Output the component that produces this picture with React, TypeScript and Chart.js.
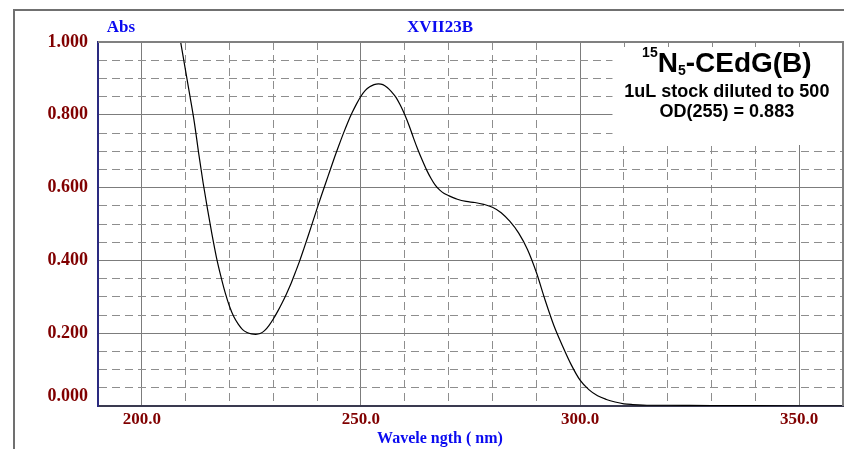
import React, { useEffect, useRef } from 'react';
import { Chart, registerables } from 'chart.js';

Chart.register(...registerables);

// ---- data ----
const wavelengths = [
  206, 208, 209, 210, 211, 212, 213, 214, 215, 216, 217, 218, 219, 220,
  221, 222, 223, 224, 225, 226, 227, 228, 229, 230, 231, 232, 233, 234,
  235, 236, 237, 238, 239, 240, 241, 242, 243, 244, 245, 246, 247, 248,
  249, 250, 251, 252, 253, 254, 255, 256, 257, 258, 259, 260, 261, 262,
  263, 264, 265, 266, 267, 268, 269, 270, 272, 274, 276, 278, 280, 282,
  284, 286, 288, 290, 292, 294, 296, 298, 300, 302, 304, 306, 308, 310,
  312, 316, 320, 330, 340, 350, 360,
];
const absorbance = [
  1.2, 1.06, 0.99, 0.92, 0.85, 0.778, 0.692, 0.612, 0.54, 0.472, 0.41, 0.358, 0.312, 0.274,
  0.245, 0.225, 0.21, 0.202, 0.198, 0.197, 0.199, 0.207, 0.221, 0.239, 0.26, 0.283, 0.308, 0.335,
  0.366, 0.398, 0.433, 0.469, 0.506, 0.543, 0.579, 0.614, 0.649, 0.684, 0.717, 0.749, 0.779, 0.806,
  0.83, 0.851, 0.867, 0.877, 0.883, 0.885, 0.883, 0.875, 0.863, 0.848, 0.826, 0.8, 0.77, 0.736,
  0.704, 0.675, 0.648, 0.625, 0.606, 0.593, 0.584, 0.578, 0.568, 0.562, 0.559, 0.554, 0.546, 0.531,
  0.507, 0.475, 0.43, 0.368, 0.292, 0.222, 0.165, 0.113, 0.071, 0.045, 0.028, 0.018, 0.011, 0.006,
  0.004, 0.002, 0.002, 0.001, 0.001, 0.0, 0.0,
];

const xMajorTicks = [200, 250, 300, 350];
const xTickLabels = ['200.0', '250.0', '300.0', '350.0'];
const yMajorTicks = [0, 0.2, 0.4, 0.6, 0.8, 1.0];
const yTickLabels = ['0.000', '0.200', '0.400', '0.600', '0.800', '1.000'];

const yAxisLabel = 'Abs';
const sampleName = 'XVII23B';
const xAxisTitle = 'Wavele ngth ( nm)';
const compoundSup = '15';
const compoundMain = 'N';
const compoundSub = '5';
const compoundRest = '-CEdG(B)';
const noteLines = ['1uL stock diluted to 500', 'OD(255) = 0.883'];

// ---- styles ----
const MAROON = '#800000';
const BLUE = '#0a0af0';
const SERIF = '"Liberation Serif", "Times New Roman", serif';
const SANS = '"Liberation Sans", Arial, Helvetica, sans-serif';
const Y_FONT = `bold 18px ${SERIF}`;

const isMajor = (v: number, majors: number[]) => majors.findIndex((m) => Math.abs(v - m) < 1e-6);

const overlayPlugin = {
  id: 'overlay',
  beforeDatasetsDraw(chart: any) {
    const { ctx, chartArea, scales } = chart;
    const x = scales.x;
    const y = scales.y;
    const bx = x.getPixelForValue(307.4);
    const by = y.getPixelForValue(0.717);
    ctx.save();
    ctx.fillStyle = '#ffffff';
    ctx.fillRect(bx, chartArea.top + 1, chartArea.right - bx - 1, by - chartArea.top - 1);
    // short stubs of the vertical grid lines at the top edge
    ctx.strokeStyle = '#888888';
    ctx.lineWidth = 1;
    for (let v = 310; v < 360; v += 10) {
      const px = Math.round(x.getPixelForValue(v)) + 0.5;
      ctx.beginPath();
      ctx.moveTo(px, chartArea.top);
      ctx.lineTo(px, chartArea.top + 5);
      ctx.stroke();
    }
    ctx.restore();
  },
  afterDraw(chart: any) {
    const { ctx, chartArea, scales } = chart;
    const x = scales.x;
    const y = scales.y;
    ctx.save();
    // outer frame
    ctx.strokeStyle = '#707070';
    ctx.lineWidth = 2;
    ctx.beginPath();
    ctx.moveTo(14, 449);
    ctx.lineTo(14, 10);
    ctx.lineTo(chartArea.right + 1, 10);
    ctx.stroke();
    // plot top and right borders
    ctx.strokeStyle = '#808080';
    ctx.beginPath();
    ctx.moveTo(chartArea.left, chartArea.top);
    ctx.lineTo(chartArea.right, chartArea.top);
    ctx.lineTo(chartArea.right, chartArea.bottom);
    ctx.stroke();

    // bottom y label, raised above the axis like the original
    ctx.fillStyle = MAROON;
    ctx.font = Y_FONT;
    ctx.textAlign = 'right';
    ctx.textBaseline = 'middle';
    ctx.fillText(yTickLabels[0], chartArea.left - 10, y.getPixelForValue(yMajorTicks[0]) - 10);

    // blue labels
    ctx.fillStyle = BLUE;
    ctx.font = `bold 17px ${SERIF}`;
    ctx.textAlign = 'center';
    ctx.textBaseline = 'alphabetic';
    ctx.fillText(yAxisLabel, chartArea.left + 23, 32);
    const cx = chartArea.left + (chartArea.right - chartArea.left) * 0.459;
    ctx.fillText(sampleName, cx, 32);
    ctx.font = `bold 16px ${SERIF}`;
    ctx.fillText(xAxisTitle, cx, 443);

    // annotation
    const acx = x.getPixelForValue(333.5);
    ctx.fillStyle = '#000000';
    const big = `bold 28px ${SANS}`;
    const small = `bold 14px ${SANS}`;
    ctx.font = small;
    const wSup = ctx.measureText(compoundSup).width;
    const wSub = ctx.measureText(compoundSub).width;
    ctx.font = big;
    const wMain = ctx.measureText(compoundMain).width;
    const wRest = ctx.measureText(compoundRest).width;
    let tx = acx - (wSup + wMain + wSub + wRest) / 2;
    const base = 72;
    ctx.textAlign = 'left';
    ctx.font = small;
    ctx.fillText(compoundSup, tx, base - 15);
    tx += wSup;
    ctx.font = big;
    ctx.fillText(compoundMain, tx, base);
    tx += wMain;
    ctx.font = small;
    ctx.fillText(compoundSub, tx, base + 3);
    tx += wSub;
    ctx.font = big;
    ctx.fillText(compoundRest, tx, base);
    ctx.textAlign = 'center';
    ctx.font = `bold 18px ${SANS}`;
    ctx.fillText(noteLines[0], acx, 97);
    ctx.fillText(noteLines[1], acx, 117);
    ctx.restore();
  },
};

export default function App() {
  const canvasRef = useRef<HTMLCanvasElement | null>(null);

  useEffect(() => {
    document.body.style.margin = '0';
    const canvas = canvasRef.current;
    if (!canvas) return;
    const points = wavelengths.map((w, i) => ({ x: w, y: absorbance[i] }));
    const chart = new Chart(canvas, {
      type: 'line',
      data: {
        datasets: [
          {
            data: points,
            borderColor: '#000000',
            borderWidth: 1.2,
            pointRadius: 0,
            fill: false,
            cubicInterpolationMode: 'monotone',
          },
        ],
      },
      options: {
        animation: false,
        responsive: false,
        devicePixelRatio: 1,
        layout: { padding: { top: 42, right: 4, left: 0, bottom: 0 } },
        plugins: {
          legend: { display: false },
          tooltip: { enabled: false },
          title: { display: false },
        },
        scales: {
          x: {
            type: 'linear',
            min: 190,
            max: 360,
            afterFit: (s: any) => {
              s.height = 43;
            },
            ticks: {
              stepSize: 10,
              autoSkip: false,
              maxRotation: 0,
              padding: 3,
              color: MAROON,
              font: { family: SERIF, size: 17, weight: 'bold' },
              callback: (v: any) => {
                const i = isMajor(Number(v), xMajorTicks);
                return i >= 0 ? xTickLabels[i] : '';
              },
            },
            grid: {
              drawTicks: false,
              color: (c: any) => (c.tick && isMajor(c.tick.value, xMajorTicks) >= 0 ? '#7c7c7c' : '#8e8e8e'),
              lineWidth: 1,
            },
            border: {
              display: true,
              color: '#3a3a50',
              width: 2,
              dash: (c: any) => (c.tick && isMajor(c.tick.value, xMajorTicks) < 0 ? [8, 5] : []),
            },
          },
          y: {
            type: 'linear',
            min: 0,
            max: 1,
            afterFit: (s: any) => {
              s.width = 98;
            },
            ticks: {
              stepSize: 0.05,
              autoSkip: false,
              padding: 10,
              color: MAROON,
              font: { family: SERIF, size: 18, weight: 'bold' },
              callback: (v: any) => {
                const i = isMajor(Number(v), yMajorTicks);
                return i > 0 ? yTickLabels[i] : '';
              },
            },
            grid: {
              drawTicks: false,
              color: (c: any) => (c.tick && isMajor(c.tick.value, yMajorTicks) >= 0 ? '#7c7c7c' : '#8e8e8e'),
              lineWidth: 1,
            },
            border: {
              display: true,
              color: '#2a2a80',
              width: 2,
              dash: (c: any) => (c.tick && isMajor(c.tick.value, yMajorTicks) < 0 ? [8, 5] : []),
            },
          },
        },
      },
      plugins: [overlayPlugin],
    } as any);
    return () => chart.destroy();
  }, []);

  return (
    <div style={{ width: 847, height: 449, position: 'relative' }}>
      <canvas ref={canvasRef} width={847} height={449} />
    </div>
  );
}
